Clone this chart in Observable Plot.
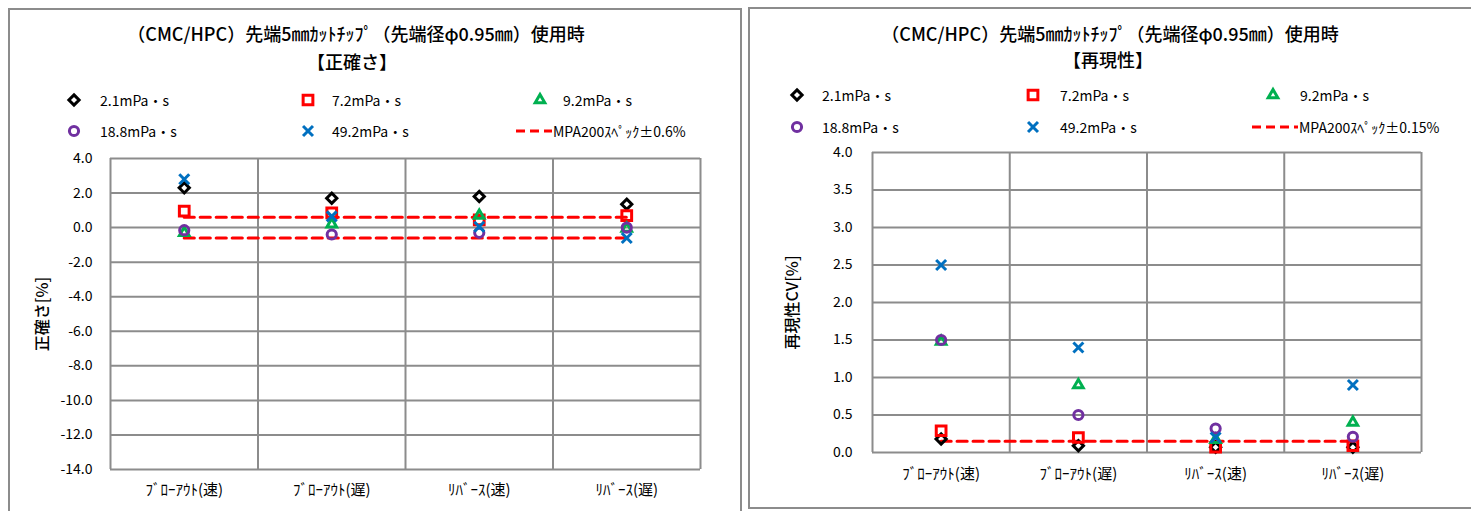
<!DOCTYPE html>
<html><head><meta charset="utf-8">
<script src="https://cdn.jsdelivr.net/npm/d3@7"></script>
<script src="https://cdn.jsdelivr.net/npm/@observablehq/plot@0.6"></script>
<style>
body{margin:0;width:1471px;height:511px;overflow:hidden;position:relative;background:#fff;font-family:"Noto Sans CJK JP","Noto Sans",sans-serif;}
.panel{position:absolute;box-sizing:border-box;border:2px solid #8c8c8c;background:#fff}
.t{position:absolute;white-space:nowrap;transform:translate(-50%,-50%);color:#000;font-size:18px;font-weight:500;line-height:1}
.lt{position:absolute;white-space:nowrap;transform:translateY(-50%);font-size:14px;line-height:1;color:#000}
.ico{position:absolute;overflow:visible}
</style></head><body>
<div class="panel" style="left:8px;top:8px;width:734px;height:540px"></div>
<div class="panel" style="left:748px;top:7px;width:760px;height:502px"></div>
<script>
// ---- data ----
const categories = ["ﾌﾞﾛｰｱｳﾄ(速)", "ﾌﾞﾛｰｱｳﾄ(遅)", "ﾘﾊﾞｰｽ(速)", "ﾘﾊﾞｰｽ(遅)"];
const seriesNames = ["2.1mPa・s", "7.2mPa・s", "9.2mPa・s", "18.8mPa・s", "49.2mPa・s"];
const seriesSymbols = ["diamond2", "square2", "triangle2", "circle", "times"];
const seriesColors = ["#000000", "#ff0000", "#00b050", "#7030a0", "#0070c0"];

// 正確さ [%]
const acc21 = [2.3, 1.7, 1.8, 1.35];
const acc72 = [0.95, 0.85, 0.45, 0.7];
const acc92 = [-0.3, 0.2, 0.7, -0.05];
const acc188 = [-0.15, -0.4, -0.3, 0.0];
const acc492 = [2.8, 0.65, 0.05, -0.6];
const accSpec = [0.6, -0.6];
const accTicks = [-14, -12, -10, -8, -6, -4, -2, 0, 2, 4];

// 再現性CV [%]
const cv21 = [0.18, 0.09, 0.07, 0.07];
const cv72 = [0.29, 0.2, 0.07, 0.09];
const cv92 = [1.48, 0.9, 0.17, 0.4];
const cv188 = [1.5, 0.5, 0.32, 0.21];
const cv492 = [2.5, 1.4, 0.2, 0.9];
const cvSpec = [0.15];
const cvTicks = [0, 0.5, 1, 1.5, 2, 2.5, 3, 3.5, 4];

const titleMain = "（CMC/HPC）先端5㎜ｶｯﾄﾁｯﾌﾟ（先端径φ0.95㎜）使用時";
const accTitle = "【正確さ】";
const cvTitle = "【再現性】";
const accLabel = "正確さ[%]";
const cvLabel = "再現性CV[%]";
const accSpecName = "MPA200ｽﾍﾟｯｸ±0.6%";
const cvSpecName = "MPA200ｽﾍﾟｯｸ±0.15%";

const FONT = '"Noto Sans CJK JP","Noto Sans",sans-serif';
const GRID = "#8c8c8c";
const R = {diamond2: 4.6, square2: 6.2, triangle2: 4.6, circle: 4.6, times: 4.6};
const SW = 3;

function makeChart(opts) {
  const {series, spec, ticks, label, left, top, width, height, ml, mr, mt, mb, labelOffset, yPad, xPad} = opts;
  const n = categories.length;
  const seps = d3.range(n + 1).map(i => i - 0.5);
  const marks = [
    Plot.ruleY(ticks, {stroke: GRID, strokeWidth: 2}),
    Plot.ruleX(seps, {stroke: GRID, strokeWidth: 2}),
    Plot.axisY({ticks, tickSize: 0, tickPadding: yPad, tickFormat: d => d.toFixed(1), fontSize: 14, label: null}),
    Plot.axisY({ticks: [], tickSize: 0, label, labelAnchor: "center", labelOffset, labelArrow: "none", fontSize: 16, fontWeight: 500}),
    Plot.axisX({ticks: d3.range(n), tickSize: 0, tickPadding: xPad, tickFormat: i => categories[i], fontSize: 15, label: null})
  ];
  spec.forEach(v => {
    marks.push(Plot.lineY(categories.map((c, i) => ({i, v})), {x: "i", y: "v", stroke: "#ff0000", strokeWidth: 3.2, strokeDasharray: "10,6"}));
  });
  series.forEach((vals, s) => {
    marks.push(Plot.dot(vals.map((v, i) => ({i, v})), {
      x: "i", y: "v", symbol: seriesSymbols[s], r: R[seriesSymbols[s]],
      stroke: seriesColors[s], strokeWidth: SW, fill: "none"
    }));
  });
  const svg = Plot.plot({
    width, height, marginLeft: ml, marginRight: mr, marginTop: mt, marginBottom: mb,
    x: {domain: [-0.5, n - 0.5], axis: null},
    y: {domain: [ticks[0], ticks[ticks.length - 1]], axis: null},
    style: {fontFamily: FONT, fontSize: "13px", color: "#000", background: "transparent", overflow: "visible"},
    marks
  });
  svg.style.position = "absolute";
  svg.style.left = left + "px";
  svg.style.top = top + "px";
  document.body.appendChild(svg);
}

function text(cls, str, x, y, extra) {
  const d = document.createElement("div");
  d.className = cls;
  d.textContent = str;
  d.style.left = x + "px";
  d.style.top = y + "px";
  if (extra) Object.assign(d.style, extra);
  document.body.appendChild(d);
}

function legendIcon(s, cx, cy) {
  const svg = d3.select(document.body).append("svg").attr("class", "ico")
    .attr("width", 20).attr("height", 20)
    .style("left", (cx - 10) + "px").style("top", (cy - 10) + "px");
  const types = {diamond2: d3.symbolDiamond2, square2: d3.symbolSquare2, triangle2: d3.symbolTriangle2, circle: d3.symbolCircle, times: d3.symbolTimes};
  const r = R[seriesSymbols[s]];
  svg.append("path").attr("transform", "translate(10,10)")
    .attr("d", d3.symbol(types[seriesSymbols[s]], Math.PI * r * r)())
    .attr("fill", "none").attr("stroke", seriesColors[s]).attr("stroke-width", SW);
}
function legendDash(x1, x2, cy) {
  const svg = d3.select(document.body).append("svg").attr("class", "ico")
    .attr("width", x2 - x1).attr("height", 10)
    .style("left", x1 + "px").style("top", (cy - 5) + "px");
  svg.append("line").attr("x1", 0).attr("x2", x2 - x1).attr("y1", 5).attr("y2", 5)
    .attr("stroke", "#ff0000").attr("stroke-width", 3.2).attr("stroke-dasharray", "9,5");
}

// ---- left: 正確さ ----
makeChart({series: [acc21, acc72, acc92, acc188, acc492], spec: accSpec, ticks: accTicks, label: accLabel,
  left: 0, top: 140, width: 740, height: 371, ml: 110, mr: 40, mt: 18, mb: 42, labelOffset: 74, yPad: 18, xPad: 15});
text("t", titleMain, 356, 33);
text("t", accTitle, 352, 61);
{
  const cols = [[74, 100], [308, 332], [540, 563]];
  const rows = [100, 131];
  for (let s = 0; s < 5; s++) {
    const c = cols[s % 3], r = rows[Math.floor(s / 3)];
    legendIcon(s, c[0], r);
    text("lt", seriesNames[s], c[1], r);
  }
  legendDash(516, 552, 131);
  text("lt", accSpecName, 553, 131);
}

// ---- right: 再現性 ----
makeChart({series: [cv21, cv72, cv92, cv188, cv492], spec: cvSpec, ticks: cvTicks, label: cvLabel,
  left: 750, top: 140, width: 721, height: 371, ml: 122, mr: 50, mt: 12, mb: 59, labelOffset: 86, yPad: 20, xPad: 16});
text("t", titleMain, 1110, 33);
text("t", cvTitle, 1108, 59);
{
  const cols = [[797, 822], [1033, 1060], [1273, 1300]];
  const rows = [95, 127];
  for (let s = 0; s < 5; s++) {
    const c = cols[s % 3], r = rows[Math.floor(s / 3)];
    legendIcon(s, c[0], r);
    text("lt", seriesNames[s], c[1], r);
  }
  legendDash(1252, 1298, 127);
  text("lt", cvSpecName, 1299, 127);
}
</script>
</body></html>
